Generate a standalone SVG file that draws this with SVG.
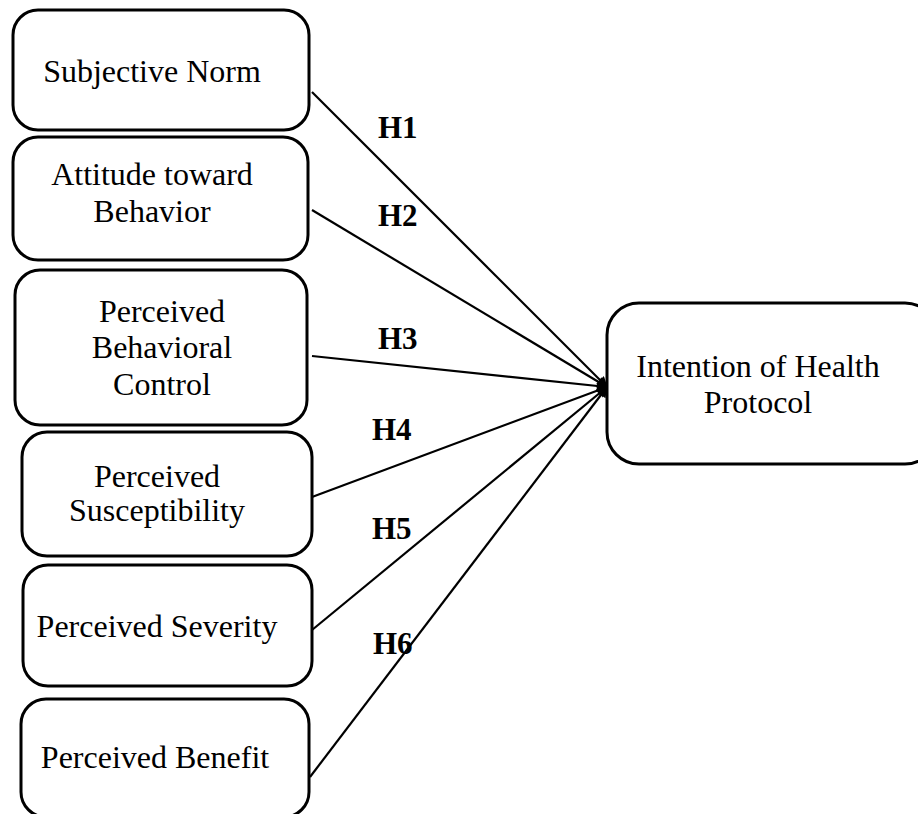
<svg xmlns="http://www.w3.org/2000/svg" width="918" height="814" viewBox="0 0 918 814">
<style>
.box{fill:#fff;stroke:#000;stroke-width:3}
.t{font-family:"Liberation Serif","Times New Roman",serif;font-size:32px;fill:#000;text-anchor:middle}
.h{font-family:"Liberation Serif","Times New Roman",serif;font-size:31px;font-weight:bold;fill:#000}
.c{stroke:#000;stroke-width:2.2;fill:none;marker-end:url(#ah)}
</style>
<defs>
<marker id="ah" viewBox="0 0 10 10" refX="9" refY="5" markerWidth="6" markerHeight="5" markerUnits="strokeWidth" orient="auto">
<path d="M0,0 L10,5 L0,10 z" fill="#000"/>
</marker>
</defs>
<g id="connectors">
<line class="c" x1="312" y1="92" x2="607" y2="387"/>
<line class="c" x1="312" y1="210" x2="607" y2="387"/>
<line class="c" x1="312" y1="356" x2="607" y2="387"/>
<line class="c" x1="312" y1="497" x2="607" y2="387"/>
<line class="c" x1="312" y1="630" x2="607" y2="387"/>
<line class="c" x1="310" y1="777" x2="607" y2="387"/>
</g>
<g id="labels">
<text class="h" x="378" y="138">H1</text>
<text class="h" x="378" y="226">H2</text>
<text class="h" x="378" y="349">H3</text>
<text class="h" x="372" y="440">H4</text>
<text class="h" x="372" y="539">H5</text>
<text class="h" x="373" y="654">H6</text>
</g>
<g id="n1"><rect class="box" x="13" y="10" width="296" height="120" rx="25"/><text class="t" x="152" y="82">Subjective Norm</text></g>
<g id="n2"><rect class="box" x="13" y="137" width="295" height="123" rx="25"/><text class="t" x="152" y="185">Attitude toward</text><text class="t" x="152" y="222">Behavior</text></g>
<g id="n3"><rect class="box" x="15" y="270" width="292" height="155" rx="25"/><text class="t" x="162" y="322">Perceived</text><text class="t" x="162" y="358">Behavioral</text><text class="t" x="162" y="395">Control</text></g>
<g id="n4"><rect class="box" x="22" y="432" width="290" height="124" rx="25"/><text class="t" x="157" y="487">Perceived</text><text class="t" x="157" y="521">Susceptibility</text></g>
<g id="n5"><rect class="box" x="23" y="565" width="289" height="121" rx="25"/><text class="t" x="157" y="637">Perceived Severity</text></g>
<g id="n6"><rect class="box" x="21" y="699" width="288" height="118" rx="25"/><text class="t" x="155" y="768">Perceived Benefit</text></g>
<g id="target"><rect class="box" x="607" y="303" width="330" height="161" rx="32"/><text class="t" x="758" y="377">Intention of Health</text><text class="t" x="758" y="413">Protocol</text></g>
</svg>
